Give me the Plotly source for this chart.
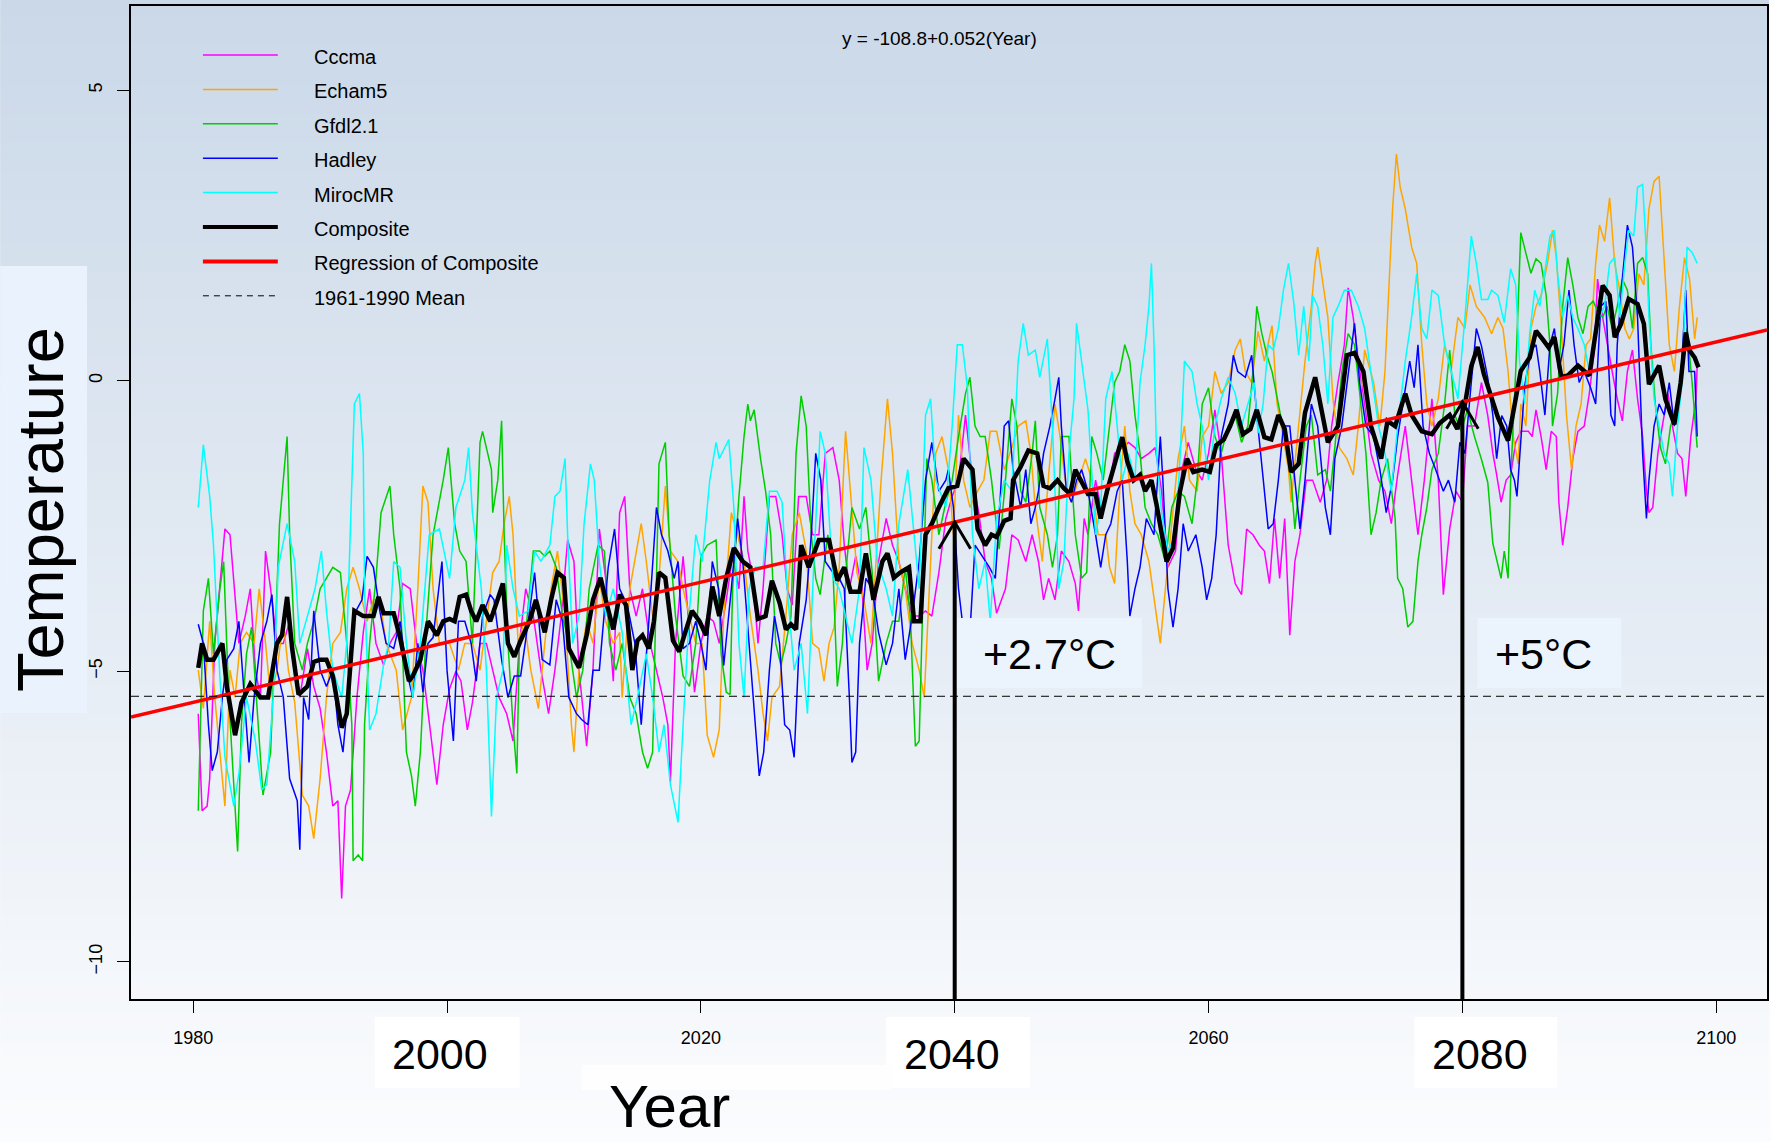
import plotly.graph_objects as go

W, H = 1771, 1142
ML, MR, MT, MB = 131, 2, 6, 143
PW, PH = W - ML - MR, H - MT - MB

x_range = [1975.1, 2104.0]
y_range = [-10.64, 6.45]

series_names = ["Cccma", "Echam5", "Gfdl2.1", "Hadley", "MirocMR"]
series_colors = ["#ff00ff", "#ffa500", "#00cd00", "#0000ff", "#00ffff"]

cccma = [(1980.4,-5.73),(1980.7,-7.40),(1981.1,-7.32),(1981.3,-6.85),(1981.7,-4.52),(1982.1,-3.58),(1982.5,-2.55),(1982.9,-2.65),(1983.2,-3.40),(1983.6,-4.52),(1984.1,-4.05),(1984.5,-3.58),(1984.9,-4.98),(1985.3,-5.45),(1985.7,-2.93),(1986.1,-3.58),(1986.6,-4.52),(1987.1,-4.52),(1987.6,-4.14),(1988.0,-4.98),(1988.4,-5.45),(1989.0,-4.61),(1989.5,-5.26),(1990.0,-5.64),(1990.5,-6.39),(1991.0,-7.32),(1991.4,-7.23),(1991.7,-8.91),(1992.0,-7.32),(1992.4,-7.04),(1992.9,-5.45),(1993.4,-4.33),(1993.9,-3.58),(1994.4,-4.52),(1995.0,-4.89),(1995.5,-4.52),(1996.0,-4.33),(1996.5,-3.49),(1997.1,-3.58),(1997.6,-4.52),(1998.1,-4.98),(1998.6,-5.92),(1999.2,-6.95),(1999.7,-5.92),
         (2000.2,-5.30),(2000.7,-5.00),(2001.1,-5.17),(2001.6,-6.01),(2002.0,-5.54),(2002.6,-4.52),(2003.1,-4.52),(2003.6,-4.98),(2004.1,-5.45),(2004.7,-5.73),(2005.2,-6.20),(2005.7,-4.52),(2006.2,-3.58),(2006.8,-4.05),(2007.4,-4.98),(2008.0,-5.73),(2008.5,-4.98),(2009.0,-4.05),(2009.5,-2.74),(2010.0,-3.11),(2010.4,-4.98),(2011.0,-6.29),(2011.5,-4.98),(2012.0,-2.55),(2012.5,-3.40),(2013.1,-5.17),(2013.6,-2.27),(2014.0,-1.99),(2014.4,-3.58),(2014.9,-4.05),(2015.4,-3.58),(2016.0,-4.52),(2016.5,-4.98),(2017.0,-5.45),(2017.4,-5.92),(2017.6,-6.90),(2018.0,-4.52),(2018.6,-3.02),(2019.0,-4.05),(2019.5,-5.36),(2020.0,-4.52),(2020.5,-4.05),(2021.0,-4.14),
         (2021.45,-4.52),(2022.0,-3.77),(2022.5,-3.02),(2023.0,-3.58),(2023.4,-1.99),(2023.7,-2.93),(2024.1,-3.40),(2024.5,-4.52),(2024.9,-3.58),(2025.4,-1.99),(2025.9,-1.99),(2026.4,-2.65),(2026.8,-3.58),(2027.2,-3.86),(2027.7,-1.99),(2028.3,-1.99),(2028.8,-2.65),(2029.3,-2.65),(2029.8,-1.25),(2030.4,-1.15),(2030.9,-1.71),(2031.3,-2.83),(2031.7,-3.58),(2032.2,-3.02),(2032.7,-3.58),(2033.1,-4.98),(2033.5,-4.52),(2034.0,-3.11),(2034.6,-2.37),(2035.1,-2.83),(2035.6,-3.11),(2036.1,-3.58),(2036.65,-4.05),(2037.2,-4.05),(2037.7,-3.96),(2038.2,-4.05),(2038.75,-3.30),(2039.3,-2.37),(2039.8,-1.99),(2040.3,-1.71),(2040.85,-0.59),(2041.4,-1.71),(2041.9,-2.27),(2042.4,-3.11),(2042.9,-3.40),
         (2043.3,-4.00),(2044.0,-3.58),(2044.5,-2.65),(2045.0,-2.74),(2045.6,-3.11),(2046.1,-2.65),(2046.6,-3.11),(2047.0,-3.77),(2047.4,-3.40),(2047.9,-3.77),(2048.4,-2.93),(2049.0,-3.11),(2049.5,-3.49),(2049.75,-3.96),(2050.2,-2.37),(2050.5,-2.65),(2051.1,-1.71),(2051.6,-2.27),(2052.1,-1.90),(2052.6,-1.25),(2053.2,-1.15),(2053.7,-1.06),(2054.2,-1.15),(2054.7,-1.34),(2055.3,-1.25),(2055.8,-1.15),(2056.3,-1.90),(2056.8,-3.21),(2057.4,-2.93),(2057.9,-1.53),(2058.4,-1.06),(2059.0,-1.53),(2059.5,-1.71),(2060.0,-1.25),(2060.5,-0.50),(2061.0,-1.25),(2061.55,-2.83),(2062.1,-3.49),(2062.6,-3.68),(2063.0,-2.55),(2063.5,-2.65),(2064.0,-2.83),(2064.4,-2.93),(2064.8,-3.49),(2065.2,-2.37),(2065.6,-3.40),(2066.0,-2.37),(2066.4,-4.38),(2066.8,-3.11),(2067.2,-2.65),(2067.7,-1.71),(2068.2,-1.71),(2068.8,-2.09),(2069.3,-1.71),(2069.7,-0.78),(2070.2,-0.03),(2070.7,0.62),(2071.0,1.60),(2071.4,1.09),(2071.8,0.34),(2072.3,-0.40),(2072.8,-1.25),(2073.4,-1.71),(2073.9,-1.90),(2074.4,-2.46),(2074.9,-1.62),(2075.5,-0.78),(2076.0,-1.71),(2076.5,-2.65),(2077.0,-1.71),(2077.6,-0.31),(2078.1,-1.71),(2078.5,-3.68),(2079.0,-2.55),(2079.5,-1.90),(2080.0,-2.09),(2080.4,-0.78),(2080.95,-0.78),
         (2081.5,-0.03),(2082.0,-0.60),(2082.4,-1.25),(2082.7,-1.62),(2083.05,-2.09),(2083.45,-1.71),(2083.8,-1.62),(2084.2,-1.06),(2084.6,-0.87),(2085.2,-0.87),(2085.5,-0.96),(2085.8,-0.50),(2086.2,-0.96),(2086.6,-1.53),(2087.0,-0.87),(2087.4,-0.96),(2087.6,-2.09),(2087.9,-2.83),(2088.3,-2.18),(2088.7,-1.34),(2089.1,-0.87),(2089.6,-0.78),(2090.0,-0.22),(2090.4,0.53),(2090.65,1.75),(2091.05,1.09),(2091.4,0.62),(2091.8,0.16),(2092.2,-0.31),(2092.6,-0.69),(2093.0,0.16),(2093.4,0.53),(2093.8,-0.31),(2094.2,-0.96),(2094.5,-1.90),(2094.7,-2.27),(2095.0,-2.18),(2095.4,-1.25),(2095.75,-0.78),(2096.2,-0.22),(2096.55,-0.78),(2096.95,-1.25),(2097.3,-1.34),(2097.6,-1.99),(2098.0,-0.96),(2098.4,-0.31),(2098.5,0.25)]

echam5 = [(1980.4,-4.98),(1980.8,-5.64),(1981.3,-4.14),(1981.7,-5.45),(1982.1,-6.39),(1982.5,-7.32),(1982.9,-4.98),(1983.3,-5.45),(1983.7,-4.52),(1984.2,-4.33),(1984.8,-4.52),(1985.2,-3.58),(1985.7,-4.52),(1986.1,-5.45),(1986.6,-4.98),(1987.1,-4.14),(1987.5,-4.98),(1988.0,-5.54),(1988.6,-7.13),(1989.1,-7.32),(1989.5,-7.88),(1990.0,-6.85),(1990.5,-5.45),(1991.0,-4.52),(1991.6,-4.33),(1992.1,-3.58),(1992.6,-3.21),(1993.1,-3.58),(1993.7,-4.14),(1994.2,-3.77),(1994.7,-3.77),(1995.2,-4.52),(1996.0,-4.98),(1996.5,-6.01),(1997.2,-5.45),(1997.7,-3.58),(1998.1,-1.81),(1998.5,-2.09),(1998.9,-3.58),(1999.4,-4.52),
          (2000.2,-4.52),(2000.9,-4.98),(2001.4,-4.52),(2002.0,-4.52),(2002.6,-4.98),(2003.1,-4.14),(2003.6,-3.30),(2004.1,-3.11),(2004.5,-2.46),(2004.9,-1.99),(2005.2,-2.65),(2005.6,-4.52),(2006.1,-4.14),(2006.6,-4.98),(2007.2,-5.64),(2007.7,-4.52),(2008.2,-3.58),(2008.7,-2.93),(2009.3,-4.05),(2009.8,-5.92),(2010.0,-6.39),(2010.4,-4.98),(2011.0,-4.14),(2011.5,-4.52),(2012.0,-3.40),(2012.5,-4.14),(2013.1,-4.52),(2013.6,-4.33),(2013.8,-5.45),(2014.4,-3.58),(2014.9,-2.93),(2015.3,-2.46),(2015.7,-3.11),(2016.2,-4.05),(2016.7,-3.40),(2017.2,-1.81),(2017.6,-2.93),(2018.2,-3.11),(2018.6,-3.58),(2019.1,-4.05),(2019.6,-4.52),(2020.1,-4.52),(2020.5,-6.10),(2021.0,-6.48),
          (2021.45,-6.00),(2021.8,-4.05),(2022.4,-2.27),(2022.9,-2.65),(2023.4,-3.11),(2023.9,-4.05),(2024.5,-4.98),(2024.9,-5.73),(2025.25,-6.20),(2025.6,-5.45),(2026.2,-5.26),(2026.7,-4.05),(2027.2,-2.65),(2027.75,-2.27),(2028.3,-2.93),(2028.8,-4.52),(2029.3,-4.61),(2029.7,-5.17),(2030.1,-4.52),(2030.5,-4.24),(2030.9,-3.21),(2031.4,-0.87),(2031.8,-1.90),(2032.3,-3.30),(2032.85,-3.77),(2033.4,-4.52),(2033.8,-3.11),(2034.2,-1.71),(2034.7,-0.31),(2035.1,-1.25),(2035.6,-3.11),(2036.1,-3.58),(2036.65,-4.52),(2037.2,-4.98),(2037.6,-5.45),(2038.0,-3.58),(2038.5,-1.25),(2039.0,-0.96),(2039.5,-1.53),(2039.9,-2.65),(2040.3,-0.59),(2040.7,-1.71),(2041.2,-2.18),(2041.8,-1.90),(2042.3,-1.71),(2042.8,-0.87),(2043.3,-0.87),
          (2043.9,-1.53),(2044.5,-1.15),(2045.0,-0.78),(2045.6,-0.69),(2046.0,-1.25),(2046.35,-2.18),(2046.9,-3.11),(2047.4,-1.62),(2047.9,-0.40),(2048.3,-0.96),(2048.7,-1.71),(2049.2,-2.09),(2049.75,-1.71),(2050.3,-1.34),(2050.8,-1.71),(2051.3,-2.65),(2051.9,-2.65),(2052.2,-3.21),(2052.6,-3.49),(2053.0,-1.90),(2053.4,-0.78),(2053.8,-1.90),(2054.2,-2.46),(2054.7,-2.65),(2055.3,-3.11),(2055.8,-3.86),(2056.2,-4.52),(2056.6,-3.58),(2057.1,-2.46),(2057.6,-1.34),(2058.1,-0.78),(2058.5,-1.71),(2059.1,-1.90),(2059.5,-0.96),(2060.0,-0.78),(2060.5,0.16),(2061.0,-0.22),(2061.55,-0.03),(2062.1,0.53),(2062.5,0.72),(2062.9,0.16),(2063.4,-0.03),(2063.9,0.85),(2064.4,0.34),(2065.0,0.95),
          (2065.4,-0.40),(2065.8,-0.87),(2066.3,-1.53),(2066.5,-2.09),(2067.1,-0.78),(2067.6,0.34),(2068.1,1.28),(2068.4,2.02),(2068.6,2.30),(2069.0,1.65),(2069.4,1.09),(2069.8,-0.31),(2070.3,-1.15),(2070.9,-1.34),(2071.4,-1.62),(2071.8,-0.78),(2072.3,0.53),(2073.0,-0.03),(2073.5,-0.78),(2073.9,0.16),(2074.3,2.21),(2074.5,2.96),(2074.8,3.90),(2075.1,3.33),(2075.5,2.96),(2076.0,2.30),(2076.4,2.02),(2076.8,0.62),(2077.2,-0.40),(2077.6,-0.78),(2078.1,-0.31),(2078.6,0.62),(2079.1,0.16),(2079.65,1.09),(2080.2,0.90),(2080.6,1.65),(2081.1,1.28),
          (2081.75,1.09),(2082.3,0.81),(2082.8,1.09),(2083.2,0.90),(2083.6,0.16),(2084.0,-0.96),(2084.4,-1.43),(2084.6,-0.40),(2085.0,-0.78),(2085.4,0.90),(2085.8,1.28),(2086.2,1.47),(2086.7,2.02),(2087.1,2.59),(2087.4,2.12),(2087.8,0.90),(2088.2,-0.59),(2088.6,-1.53),(2088.95,-0.78),(2089.35,-0.40),(2089.75,0.62),(2090.1,0.72),(2090.5,2.02),(2090.8,2.68),(2091.2,2.40),(2091.6,3.15),(2092.0,2.02),(2092.4,1.56),(2092.8,0.90),(2093.15,0.72),(2093.5,0.90),(2093.9,1.84),(2094.3,1.65),(2094.7,2.96),(2095.1,3.43),(2095.5,3.52),(2095.9,2.02),(2096.3,0.62),(2096.7,0.16),(2097.1,1.28),(2097.5,2.12),(2097.9,1.75),(2098.3,0.72),(2098.5,1.09)]

gfdl21 = [(1980.4,-7.40),(1980.8,-3.96),(1981.2,-3.40),(1981.6,-4.70),(1982.1,-3.58),(1982.4,-3.11),(1982.8,-5.45),(1983.2,-7.04),(1983.5,-8.10),(1983.8,-5.92),(1984.2,-4.70),(1984.6,-4.24),(1985.0,-5.45),(1985.5,-7.13),(1986.1,-6.39),(1986.6,-3.40),(1986.8,-2.46),(1987.4,-0.96),(1987.6,-2.65),(1988.0,-4.52),(1988.6,-4.98),(1989.0,-4.52),(1989.5,-4.14),(1990.0,-3.58),(1990.5,-3.40),(1991.0,-3.21),(1991.6,-3.30),(1992.1,-4.52),(1992.5,-5.92),(1992.6,-8.26),(1993.0,-8.16),(1993.35,-8.26),(1993.5,-5.92),(1993.9,-4.52),(1994.4,-3.40),(1994.8,-2.27),(1995.5,-1.81),(1995.8,-2.65),(1996.3,-3.58),(1996.8,-6.39),(1997.2,-6.80),(1997.5,-7.32),(1997.9,-6.39),(1998.4,-4.14),(1998.9,-2.65),(1999.7,-1.71),(2000.1,-1.15),
          (2000.6,-2.46),(2001.0,-2.93),(2001.5,-3.11),(2002.0,-4.52),(2002.6,-1.06),(2002.8,-0.87),(2003.5,-1.53),(2003.6,-2.27),(2004.0,-1.71),(2004.3,-0.69),(2004.5,-2.65),(2004.8,-4.52),(2005.2,-5.92),(2005.5,-6.76),(2005.7,-4.52),(2006.2,-4.33),(2006.8,-2.93),(2007.3,-2.93),(2007.7,-3.02),(2008.1,-2.93),(2008.6,-3.21),(2009.1,-4.05),(2009.6,-4.52),(2010.2,-5.45),(2010.7,-4.98),(2011.2,-3.58),(2011.9,-2.83),(2012.4,-2.93),(2012.8,-4.52),(2013.3,-4.98),(2013.8,-4.52),(2014.4,-5.45),(2014.9,-5.73),(2015.4,-6.39),(2015.8,-6.67),(2016.2,-6.39),(2016.5,-3.58),(2016.7,-1.43),(2017.2,-1.06),(2017.5,-2.65),(2018.0,-4.05),(2018.6,-5.08),(2019.1,-5.26),(2019.6,-4.52),(2020.0,-3.02),(2020.5,-2.83),(2021.2,-2.74),
          (2021.6,-4.70),(2022.0,-5.36),(2022.3,-5.40),(2022.5,-3.58),(2023.0,-1.99),(2023.4,-0.96),(2023.7,-0.40),(2023.9,-0.69),(2024.2,-0.50),(2024.7,-1.34),(2025.1,-1.90),(2025.5,-2.65),(2025.9,-4.52),(2026.3,-4.89),(2026.7,-4.52),(2027.1,-4.05),(2027.5,-1.25),(2027.9,-0.26),(2028.3,-0.78),(2028.7,-2.65),(2029.05,-3.40),(2029.4,-3.68),(2030.0,-2.65),(2030.4,-3.21),(2030.75,-5.26),(2031.15,-4.52),(2031.5,-3.11),(2031.9,-2.18),(2032.5,-2.55),(2033.0,-2.18),(2033.5,-3.30),(2034.0,-5.17),(2034.6,-4.52),(2035.1,-4.14),(2035.6,-4.14),(2036.1,-3.21),(2036.5,-4.05),(2036.9,-6.29),(2037.2,-6.20),(2037.4,-4.52),(2037.8,-1.34),(2038.2,-1.71),(2038.75,-2.65),(2039.3,-2.09),(2039.8,-1.71),(2040.3,-0.96),(2040.85,-0.22),(2041.2,0.06),(2041.6,-0.78),(2042.0,-0.96),(2042.4,-0.96),(2042.9,-1.71),
          (2043.5,-2.90),(2044.0,-1.71),(2044.5,-0.31),(2044.9,-0.78),(2045.2,-1.90),(2045.6,-2.09),(2046.1,-1.25),(2046.35,-0.69),(2046.7,-2.18),(2047.3,-2.65),(2047.7,-3.21),(2048.1,-2.65),(2048.4,-0.96),(2049.0,-0.96),(2049.5,-2.65),(2050.0,-3.40),(2050.4,-3.30),(2050.8,-0.96),(2051.2,-1.25),(2051.7,-1.71),(2052.2,-0.78),(2052.6,-0.03),(2053.0,0.16),(2053.4,0.62),(2053.8,0.34),(2054.2,-0.59),(2054.6,-1.25),(2055.0,-2.18),(2055.5,-2.46),(2056.0,-2.65),(2056.6,-3.11),(2057.1,-2.18),(2057.6,-1.90),(2058.1,-1.99),(2058.7,-2.46),(2059.1,-1.71),(2059.5,-0.40),(2060.0,-0.12),(2060.5,-0.96),(2061.0,-1.25),(2061.55,-0.78),(2062.1,-0.59),(2062.6,-1.06),(2063.1,-0.78),(2063.5,0.16),(2063.8,1.28),(2064.2,0.81),(2064.6,0.44),(2065.0,0.16),
          (2065.5,-0.40),(2066.0,-0.96),(2066.5,-1.71),(2066.8,-2.55),(2067.2,-1.71),(2067.7,-0.78),(2068.1,-0.59),(2068.6,-1.62),(2069.2,-1.53),(2069.6,-1.90),(2069.95,-1.15),(2070.5,0.16),(2071.0,0.81),(2071.5,0.62),(2072.0,-0.40),(2072.4,-1.25),(2072.8,-2.65),(2073.2,-2.27),(2073.6,-1.71),(2074.1,-1.34),(2074.7,-2.37),(2074.9,-3.40),(2075.3,-3.58),(2075.7,-4.24),(2076.1,-4.14),(2076.5,-3.11),(2076.8,-2.65),(2077.2,-2.18),(2077.6,-1.53),(2078.1,-1.25),(2078.6,-0.40),(2079.0,0.53),(2079.4,-0.59),(2079.9,-0.87),(2080.4,-0.50),(2080.95,-0.96),
          (2081.5,-1.35),(2082.0,-1.75),(2082.4,-2.80),(2082.8,-3.20),(2083.05,-3.40),(2083.3,-2.93),(2083.6,-3.40),(2083.8,-1.71),(2084.2,0.16),(2084.6,2.55),(2085.0,2.20),(2085.4,1.85),(2085.8,2.10),(2086.2,2.02),(2086.6,1.47),(2086.9,0.62),(2087.1,-0.78),(2087.5,-0.22),(2087.9,1.28),(2088.3,2.12),(2088.7,1.65),(2089.1,1.09),(2089.5,0.81),(2089.9,1.28),(2090.3,1.37),(2090.7,1.18),(2091.05,1.09),(2091.4,1.28),(2091.8,0.90),(2092.2,1.28),(2092.6,1.75),(2093.0,1.56),(2093.4,0.90),(2093.8,2.02),(2094.2,2.12),(2094.6,1.84),(2094.85,0.62),(2095.2,-0.40),(2095.6,-1.15),(2096.0,-1.43),(2096.4,-0.78),(2096.95,-0.40),(2097.3,0.34),(2097.7,0.90),(2098.1,-0.03),(2098.5,-1.15)]

hadley = [(1980.4,-4.19),(1980.8,-4.52),(1981.2,-5.92),(1981.5,-6.71),(1981.9,-6.39),(1982.3,-5.45),(1982.65,-4.80),(1983.2,-4.61),(1983.6,-4.14),(1984.0,-5.45),(1984.4,-6.57),(1984.8,-5.45),(1985.3,-4.52),(1985.8,-4.14),(1986.2,-3.68),(1986.6,-4.98),(1987.1,-5.45),(1987.6,-6.85),(1988.2,-7.23),(1988.4,-8.07),(1988.7,-5.45),(1989.1,-5.83),(1989.5,-3.96),(1990.0,-4.98),(1990.5,-5.26),(1991.0,-4.98),(1991.4,-5.92),(1991.8,-6.39),(1992.2,-5.45),(1992.6,-4.05),(1993.3,-3.77),(1993.7,-3.02),(1994.2,-3.21),(1994.7,-3.96),(1995.2,-4.52),(1995.8,-4.61),(1996.3,-4.14),(1996.8,-4.98),(1997.3,-5.45),(1997.7,-4.52),(1998.1,-5.36),(1998.5,-4.52),(1998.9,-4.42),(1999.6,-3.11),(2000.0,-4.98),(2000.5,-6.20),(2000.9,-4.14),
          (2001.4,-4.14),(2001.9,-4.52),(2002.3,-5.17),(2002.8,-4.05),(2003.4,-3.68),(2003.7,-3.77),(2004.3,-4.80),(2004.8,-5.45),(2005.3,-5.08),(2005.8,-5.08),(2006.4,-4.14),(2006.9,-3.30),(2007.5,-4.80),(2008.1,-4.89),(2008.6,-3.77),(2009.1,-4.14),(2009.6,-5.45),(2010.2,-5.73),(2010.6,-5.83),(2011.1,-5.92),(2011.5,-4.98),(2012.0,-4.98),(2012.7,-3.21),(2013.2,-2.55),(2013.6,-3.58),(2014.2,-3.86),(2014.8,-4.52),(2015.3,-5.92),(2015.9,-4.14),(2016.5,-2.18),(2016.9,-2.65),(2017.4,-2.93),(2017.9,-3.40),(2018.2,-3.11),(2018.6,-4.61),(2019.1,-4.52),(2019.6,-4.14),(2020.0,-4.52),(2020.4,-4.98),(2020.9,-3.11),(2021.4,-3.58),
          (2021.8,-4.90),(2022.4,-3.58),(2022.9,-2.37),(2023.3,-3.11),(2023.8,-4.52),(2024.3,-5.92),(2024.6,-6.80),(2024.95,-6.39),(2025.4,-4.98),(2025.8,-4.05),(2026.2,-4.52),(2026.6,-5.92),(2027.0,-6.01),(2027.35,-6.48),(2027.75,-4.52),(2028.3,-3.77),(2028.7,-2.65),(2029.05,-1.25),(2029.45,-1.71),(2029.8,-3.11),(2030.4,-3.30),(2030.9,-3.40),(2031.3,-3.58),(2031.7,-5.45),(2031.9,-6.57),(2032.2,-6.39),(2032.5,-4.52),(2033.0,-3.40),(2033.5,-3.58),(2034.0,-4.33),(2034.6,-4.89),(2035.1,-4.52),(2035.6,-3.58),(2036.1,-4.80),(2036.65,-4.05),(2037.2,-3.11),(2037.7,-1.71),(2038.2,-1.06),(2038.75,-1.90),(2039.3,-1.71),(2039.5,-1.53),(2039.9,-2.18),(2040.3,-3.58),(2040.7,-4.33),(2041.2,-4.33),(2041.6,-2.83),(2042.2,-3.02),(2042.7,-3.20),
          (2043.2,-3.40),(2043.5,-2.37),(2043.9,-0.78),(2044.25,-0.69),(2044.6,-1.53),(2045.2,-2.18),(2045.6,-1.53),(2046.0,-2.46),(2046.35,-2.18),(2046.6,-1.90),(2047.0,-1.25),(2047.5,-0.78),(2047.9,-0.31),(2048.2,0.06),(2048.4,-0.78),(2048.8,-1.90),(2049.2,-2.09),(2049.6,-1.71),(2050.0,-1.53),(2050.5,-1.90),(2051.1,-2.65),(2051.5,-3.21),(2051.9,-2.65),(2052.3,-2.46),(2052.8,-1.90),(2053.2,-1.71),(2053.6,-3.11),(2053.8,-4.05),(2054.2,-3.58),(2054.6,-3.21),(2055.1,-2.37),(2055.7,-2.65),(2056.2,-0.96),(2056.4,-1.71),(2056.8,-3.58),(2057.2,-4.24),(2057.6,-3.58),(2058.0,-2.46),(2058.4,-2.93),(2059.0,-2.65),(2059.5,-3.21),(2059.85,-3.77),(2060.25,-3.40),(2060.6,-2.65),(2061.0,-0.96),(2061.55,-0.40),(2061.95,0.44),(2062.3,0.16),(2062.9,0.06),(2063.4,0.44),(2063.8,-0.59),
          (2064.3,-1.71),(2064.7,-2.55),(2065.1,-2.46),(2065.5,-1.71),(2065.9,-0.78),(2066.4,-0.78),(2066.8,-1.71),(2067.2,-2.55),(2067.6,-1.71),(2068.1,-0.40),(2068.6,-0.78),(2069.2,-2.18),(2069.6,-2.65),(2069.95,-1.34),(2070.5,-0.78),(2071.0,0.16),(2071.5,0.99),(2071.9,-0.03),(2072.4,-0.78),(2073.0,-0.96),(2073.5,-1.53),(2074.0,-2.27),(2074.5,-1.71),(2074.9,-0.96),(2075.5,-0.12),(2075.85,0.34),(2076.2,-0.12),(2076.5,0.62),(2076.9,-0.78),(2077.4,-1.25),(2077.9,-1.53),(2078.5,-1.90),(2078.9,-1.71),(2079.4,-2.09),(2079.8,-1.06),(2080.2,-1.25),(2080.7,-0.03),(2081.1,0.90),
          (2081.5,0.60),(2082.0,0.05),(2082.4,-0.59),(2082.7,-1.34),(2083.1,-0.60),(2083.5,-0.78),(2083.8,-1.53),(2084.1,-1.71),(2084.3,-1.99),(2084.6,-1.10),(2084.9,-0.10),(2085.4,0.53),(2085.8,0.62),(2086.1,0.16),(2086.5,-0.59),(2086.9,0.62),(2087.25,0.90),(2087.6,0.16),(2088.0,0.62),(2088.4,1.56),(2088.8,0.62),(2089.2,-0.03),(2089.6,0.16),(2090.1,-0.12),(2090.5,-0.40),(2090.9,1.28),(2091.3,1.37),(2091.7,-0.59),(2092.0,-0.78),(2092.2,0.62),(2092.6,1.75),(2093.0,2.68),(2093.4,2.30),(2093.8,1.09),(2094.2,-1.25),(2094.5,-2.37),(2094.7,-1.71),(2095.1,-0.78),(2095.5,-0.40),(2095.9,-0.59),(2096.3,-0.03),(2096.7,-0.78),(2097.2,-0.03),(2097.6,1.56),(2097.85,0.16),(2098.3,0.16),(2098.5,-0.96)]

mirocmr = [(1980.4,-2.18),(1980.8,-1.10),(1981.3,-1.99),(1981.6,-2.83),(1982.1,-5.08),(1982.5,-6.48),(1983.2,-7.32),(1983.6,-6.76),(1984.2,-5.45),(1984.9,-6.20),(1985.4,-7.04),(1985.8,-6.95),(1986.3,-5.45),(1986.7,-3.21),(1987.4,-2.46),(1988.0,-3.11),(1988.4,-4.52),(1989.1,-3.96),(1989.6,-3.58),(1990.1,-2.93),(1990.5,-3.96),(1991.0,-4.98),(1991.7,-5.45),(1992.1,-4.52),(1992.5,-1.71),(1992.7,-0.40),(1993.1,-0.22),(1993.4,-1.25),(1993.5,-3.58),(1993.9,-6.01),(1994.4,-5.73),(1995.0,-4.89),(1995.4,-4.52),(1995.8,-3.11),(1996.3,-3.21),(1996.8,-4.52),(1997.3,-5.45),(1997.9,-4.52),(1998.6,-2.65),(1999.4,-2.55),
           (2000.2,-3.40),(2000.7,-2.18),(2001.4,-1.71),(2001.7,-1.15),(2002.0,-2.27),(2002.7,-3.58),(2003.1,-4.98),(2003.5,-7.50),(2003.9,-5.45),(2004.4,-4.98),(2004.7,-2.83),(2005.2,-3.58),(2005.7,-4.05),(2006.4,-3.96),(2006.9,-2.93),(2007.4,-3.11),(2008.1,-2.83),(2008.5,-1.99),(2008.9,-1.90),(2009.3,-1.34),(2009.5,-2.65),(2009.9,-4.52),(2010.4,-4.05),(2010.8,-2.46),(2011.3,-1.43),(2011.6,-1.71),(2012.0,-3.11),(2012.5,-4.05),(2013.1,-3.58),(2013.8,-4.33),(2014.5,-5.92),(2015.0,-5.45),(2015.7,-4.70),(2016.2,-5.45),(2016.7,-6.39),(2017.1,-5.92),(2017.6,-6.95),(2018.2,-7.60),(2018.6,-5.92),(2019.1,-3.96),(2019.6,-2.65),(2020.1,-3.11),(2020.7,-1.71),(2021.2,-1.06),
           (2021.45,-1.34),(2022.2,-1.01),(2022.6,-2.18),(2023.0,-4.52),(2023.4,-5.45),(2023.8,-3.58),(2024.3,-3.21),(2024.9,-3.21),(2025.4,-1.90),(2026.0,-1.90),(2026.4,-2.09),(2026.8,-3.58),(2027.35,-4.98),(2027.9,-4.52),(2028.4,-5.73),(2028.9,-3.11),(2029.4,-0.87),(2029.8,-1.25),(2030.4,-3.40),(2030.9,-3.58),(2031.4,-4.05),(2031.9,-4.52),(2032.5,-3.58),(2032.85,-1.15),(2033.4,-1.71),(2033.9,-3.11),(2034.6,-3.58),(2035.1,-4.05),(2035.6,-2.46),(2036.3,-1.53),(2036.8,-2.65),(2037.2,-3.58),(2037.7,-0.59),(2038.1,-0.31),(2038.5,-1.71),(2039.3,-2.18),(2039.8,-0.78),(2040.2,0.62),(2040.6,0.62),(2041.0,-0.12),(2041.4,-2.65),(2041.9,-3.58),(2042.4,-3.11),(2042.8,-4.14),
           (2043.3,-2.40),(2043.9,-1.71),(2044.5,-1.90),(2045.0,0.34),(2045.4,0.99),(2045.8,0.44),(2046.35,0.53),(2046.7,0.06),(2047.3,0.72),(2047.7,-0.78),(2048.2,-3.58),(2048.6,-3.11),(2049.0,-1.25),(2049.4,-0.31),(2049.6,0.99),(2050.0,0.34),(2050.5,-0.50),(2051.1,-2.65),(2051.5,-2.18),(2051.9,-0.31),(2052.4,0.16),(2052.8,-0.78),(2053.2,-1.71),(2053.7,-1.25),(2054.2,-1.71),(2054.6,-0.03),(2055.0,0.62),(2055.3,1.28),(2055.5,2.02),(2055.7,0.62),(2055.9,-1.25),(2056.3,-2.27),(2056.8,-2.93),(2057.4,-2.65),(2057.75,-1.34),(2058.1,0.34),(2058.7,0.16),(2059.1,-0.40),(2059.5,-0.78),(2060.0,-1.71),(2060.5,-0.78),(2061.0,-0.31),(2061.55,0.06),(2062.1,-0.22),(2062.6,-0.78),(2063.1,-0.40),(2063.6,-0.03),
           (2063.9,-0.90),(2064.3,-0.40),(2064.7,0.62),(2065.1,0.53),(2065.5,0.90),(2065.9,1.56),(2066.3,2.02),(2066.7,1.37),(2067.1,0.44),(2067.5,1.28),(2067.9,0.34),(2068.2,1.47),(2068.6,1.28),(2069.0,0.62),(2069.4,-0.40),(2069.8,1.09),(2070.2,1.28),(2070.7,1.56),(2071.25,1.56),(2071.8,1.28),(2072.3,0.90),(2072.8,0.16),(2073.4,-0.78),(2073.9,-1.25),(2074.4,-1.90),(2074.9,-0.78),(2075.5,0.34),(2076.0,1.09),(2076.4,1.84),(2076.8,0.90),(2077.2,0.72),(2077.6,1.56),(2078.1,1.47),(2078.6,0.62),(2079.1,0.16),(2079.65,-0.31),(2080.2,1.09),(2080.7,2.49),(2081.1,2.02),
           (2081.5,1.40),(2082.0,1.40),(2082.3,1.56),(2082.8,1.47),(2083.3,1.00),(2083.8,1.93),(2084.2,1.65),(2084.5,0.34),(2084.9,-0.40),(2085.3,0.81),(2085.7,1.56),(2086.1,1.28),(2086.5,1.93),(2086.9,2.49),(2087.25,2.59),(2087.5,1.84),(2087.9,1.09),(2088.3,1.47),(2088.7,1.09),(2089.1,0.90),(2089.6,0.62),(2090.0,0.16),(2090.4,0.62),(2090.8,1.09),(2091.2,1.28),(2091.6,2.02),(2092.0,2.12),(2092.4,1.09),(2092.8,2.02),(2093.1,2.59),(2093.5,2.49),(2093.8,3.33),(2094.2,3.38),(2094.5,2.21),(2094.7,1.09),(2095.1,-0.31),(2095.5,-0.78),(2095.9,-1.25),(2096.3,-1.43),(2096.55,-1.99),(2096.95,-0.78),(2097.3,-0.03),(2097.7,2.30),(2098.1,2.21),(2098.5,2.02)]

composite = [(1980.4,-4.94),(1980.7,-4.52),(1981.1,-4.80),(1981.6,-4.80),(1982.3,-4.52),(1982.65,-5.26),(1983.3,-6.10),(1983.8,-5.54),(1984.5,-5.22),(1985.3,-5.45),(1985.9,-5.45),(1986.6,-4.52),(1987.0,-4.38),(1987.4,-3.72),(1987.8,-4.61),(1988.3,-5.40),(1989.0,-5.26),(1989.5,-4.84),(1990.0,-4.80),(1990.5,-4.80),(1991.0,-5.08),(1991.7,-5.97),(1992.1,-5.73),(1992.5,-4.42),(1992.7,-3.96),(1993.4,-4.05),(1994.2,-4.05),(1994.6,-3.72),(1995.0,-4.00),(1995.8,-4.00),(1996.3,-4.42),(1997.0,-5.17),(1997.3,-5.08),(1997.9,-4.80),(1998.5,-4.14),(1999.2,-4.38),(1999.7,-4.14),
             (2000.2,-4.10),(2000.6,-4.14),(2001.0,-3.72),(2001.5,-3.68),(2001.9,-3.96),(2002.3,-4.14),(2002.8,-3.86),(2003.4,-4.14),(2003.9,-3.82),(2004.4,-3.49),(2004.8,-4.52),(2005.3,-4.75),(2005.8,-4.47),(2006.5,-4.14),(2007.0,-3.77),(2007.7,-4.33),(2008.2,-3.77),(2008.7,-3.30),(2009.2,-3.39),(2009.6,-4.61),(2010.4,-4.94),(2011.0,-4.38),(2011.5,-3.77),(2012.1,-3.39),(2012.5,-3.77),(2013.1,-4.28),(2013.6,-3.68),(2014.1,-3.86),(2014.6,-4.98),(2015.0,-4.47),(2015.4,-4.38),(2015.9,-4.61),(2016.3,-4.14),(2016.7,-3.30),(2017.2,-3.39),(2017.8,-4.47),(2018.3,-4.66),(2018.8,-4.33),(2019.3,-3.96),(2019.9,-4.14),(2020.4,-4.38),(2020.9,-3.54),
             (2021.45,-4.05),(2022.0,-3.39),(2022.6,-2.88),(2023.3,-3.11),(2023.9,-3.21),(2024.5,-4.10),(2025.1,-4.05),(2025.6,-3.44),(2026.2,-3.82),(2026.7,-4.28),(2027.1,-4.19),(2027.5,-4.28),(2027.9,-2.83),(2028.5,-3.21),(2029.3,-2.74),(2030.1,-2.74),(2030.75,-3.44),(2031.3,-3.21),(2031.8,-3.63),(2032.5,-3.63),(2033.0,-2.97),(2033.6,-3.77),(2034.3,-3.11),(2034.7,-2.97),(2035.2,-3.39),(2035.7,-3.30),(2036.4,-3.21),(2036.8,-4.14),(2037.3,-4.14),(2037.7,-2.65),(2038.2,-2.46),(2038.75,-2.18),(2039.5,-1.85),(2040.2,-1.81),(2040.7,-1.34),(2041.4,-1.53),(2041.8,-2.55),(2042.4,-2.83),
             (2042.9,-2.65),(2043.3,-2.69),(2043.9,-2.41),(2044.4,-2.37),(2044.6,-1.71),(2045.2,-1.48),(2045.8,-1.20),(2046.5,-1.25),(2047.0,-1.81),(2047.5,-1.85),(2048.1,-1.71),(2048.6,-1.85),(2049.1,-1.95),(2049.5,-1.53),(2050.0,-1.76),(2050.5,-1.95),(2051.1,-1.95),(2051.5,-2.37),(2052.0,-1.90),(2052.5,-1.53),(2053.2,-0.97),(2053.6,-1.39),(2054.1,-1.71),(2054.6,-1.62),(2055.0,-1.90),(2055.5,-1.71),(2055.9,-2.13),(2056.7,-3.11),(2057.2,-2.88),(2057.75,-1.90),(2058.3,-1.34),(2058.8,-1.57),(2059.5,-1.53),(2060.1,-1.57),(2060.6,-1.11),(2061.2,-1.01),(2061.7,-0.78),(2062.2,-0.50),(2062.7,-0.92),(2063.3,-0.83),(2063.8,-0.50),
             (2064.4,-0.97),(2064.95,-1.01),(2065.5,-0.59),(2066.0,-0.83),(2066.5,-1.57),(2067.1,-1.43),(2067.6,-0.55),(2068.4,0.06),(2068.9,-0.50),(2069.4,-1.06),(2070.2,-0.78),(2070.9,0.44),(2071.5,0.48),(2072.2,0.16),(2072.8,-0.78),(2073.6,-1.34),(2074.1,-0.69),(2074.7,-0.78),(2075.5,-0.22),(2076.0,-0.59),(2076.8,-0.87),(2077.6,-0.92),(2078.2,-0.73),(2079.0,-0.59),(2079.6,-0.83),(2080.2,-0.41),(2080.7,0.25),(2081.2,0.58),(2081.7,0.11),(2082.3,-0.31),
             (2082.8,-0.63),(2083.6,-1.03),(2084.1,-0.46),(2084.6,0.17),(2085.3,0.40),(2085.8,0.86),(2086.3,0.72),(2086.8,0.57),(2087.25,0.75),(2087.8,0.06),(2088.3,0.09),(2089.1,0.26),(2090.0,0.09),(2090.65,1.09),(2091.05,1.64),(2091.6,1.47),(2092.0,0.75),(2092.5,0.98),(2093.1,1.41),(2093.8,1.32),(2094.3,0.98),(2094.7,-0.06),(2095.5,0.26),(2096.0,-0.32),(2096.7,-0.75),(2097.2,-0.03),(2097.6,0.83),(2097.9,0.52),(2098.3,0.40),(2098.6,0.23)]

reg_intercept = -107.9
reg_slope = 0.0517
equation_text = "y = -108.8+0.052(Year)"
baseline_mean = -5.43
marker_years = [2040, 2080]
marker_labels = ["+2.7°C", "+5°C"]

x_tick_vals = [1980, 2000, 2020, 2040, 2060, 2080, 2100]
x_tick_text = ["1980", "", "2020", "", "2060", "", "2100"]
big_year_labels = ["2000", "2040", "2080"]
y_tick_vals = [-10, -5, 0, 5]

legend_labels = ["Cccma", "Echam5", "Gfdl2.1", "Hadley", "MirocMR",
                 "Composite", "Regression of Composite", "1961-1990 Mean"]

FONT = "Liberation Sans, Arial, Helvetica, sans-serif"


def pxx(px):
    return (px - ML) / PW


def pxy(py):
    return (H - MB - py) / PH


fig = go.Figure()

all_series = [cccma, echam5, gfdl21, hadley, mirocmr]
for name, color, data in zip(series_names, series_colors, all_series):
    fig.add_trace(go.Scatter(x=[p[0] for p in data], y=[p[1] for p in data],
                             mode="lines", name=name,
                             line=dict(color=color, width=1.5), showlegend=False))

fig.add_trace(go.Scatter(x=[p[0] for p in composite], y=[p[1] for p in composite],
                         mode="lines", name="Composite",
                         line=dict(color="black", width=4.5), showlegend=False))

fig.add_trace(go.Scatter(x=x_range, y=[reg_intercept + reg_slope * v for v in x_range],
                         mode="lines", name="Regression of Composite",
                         line=dict(color="#ff0000", width=3.5), showlegend=False))

fig.add_trace(go.Scatter(x=x_range, y=[baseline_mean, baseline_mean], mode="lines",
                         name="1961-1990 Mean",
                         line=dict(color="black", width=1, dash="8px,5px"), showlegend=False))

for yr in marker_years:
    tip = reg_intercept + reg_slope * yr
    fig.add_trace(go.Scatter(x=[yr, yr], y=[tip, y_range[0]], mode="lines",
                             line=dict(color="black", width=4), showlegend=False))
    fig.add_trace(go.Scatter(x=[yr - 1.25, yr, yr + 1.25], y=[tip - 0.46, tip, tip - 0.46],
                             mode="lines", line=dict(color="black", width=3),
                             showlegend=False))

shapes = []
# background gradient (whole figure)
top_c = (202, 216, 232)
bot_c = (251, 252, 254)
nb = 80
for i in range(nb):
    y0 = i * H / nb
    y1 = (i + 1) * H / nb + 1
    t = (i + 0.5) / nb
    c = tuple(round(top_c[k] + (bot_c[k] - top_c[k]) * t) for k in range(3))
    shapes.append(dict(type="rect", xref="paper", yref="paper",
                       x0=pxx(0), x1=pxx(W), y0=pxy(y1), y1=pxy(y0),
                       fillcolor="rgb(%d,%d,%d)" % c, line=dict(width=0), layer="below"))


def box(x0, y0, x1, y1, color):
    shapes.append(dict(type="rect", xref="paper", yref="paper",
                       x0=pxx(x0), x1=pxx(x1), y0=pxy(y1), y1=pxy(y0),
                       fillcolor=color, line=dict(width=0), layer="above"))


box(0, 266, 87, 713, "#eaf3fd")
box(958, 618, 1143, 688, "#ebf3fc")
box(1479, 618, 1623, 688, "#ebf3fc")
box(375, 1017, 520, 1088, "#ffffff")
box(887, 1017, 1031, 1088, "#ffffff")
box(1416, 1017, 1559, 1088, "#ffffff")
box(582, 1065, 893, 1090, "#fefefe")

# legend samples
leg_styles = [dict(color=c, width=1.5) for c in series_colors] + [
    dict(color="black", width=4), dict(color="#ff0000", width=4),
    dict(color="black", width=1, dash="6px,5px")]
annotations = []
for i, (lab, st) in enumerate(zip(legend_labels, leg_styles)):
    yy = 55 + 34.4 * i
    shapes.append(dict(type="line", xref="paper", yref="paper",
                       x0=pxx(203), x1=pxx(278), y0=pxy(yy), y1=pxy(yy),
                       line=st, layer="above"))
    annotations.append(dict(xref="paper", yref="paper", x=pxx(312), y=pxy(yy + 2),
                            xanchor="left", yanchor="middle", showarrow=False,
                            text=lab, font=dict(family=FONT, size=20, color="black")))

annotations.append(dict(xref="paper", yref="paper", x=pxx(940), y=pxy(38),
                        xanchor="center", yanchor="middle", showarrow=False,
                        text=equation_text, font=dict(family=FONT, size=19, color="black")))

for lab, cx in zip(marker_labels, [1051, 1545]):
    annotations.append(dict(xref="paper", yref="paper", x=pxx(cx), y=pxy(654),
                            xanchor="center", yanchor="middle", showarrow=False,
                            text=lab, font=dict(family=FONT, size=43, color="black")))

for lab, cx in zip(big_year_labels, [440, 953, 1482]):
    annotations.append(dict(xref="paper", yref="paper", x=pxx(cx), y=pxy(1054),
                            xanchor="center", yanchor="middle", showarrow=False,
                            text=lab, font=dict(family=FONT, size=43, color="black")))

annotations.append(dict(xref="paper", yref="paper", x=pxx(670), y=pxy(1106),
                        xanchor="center", yanchor="middle", showarrow=False,
                        text="Year", font=dict(family=FONT, size=60, color="black")))

annotations.append(dict(xref="paper", yref="paper", x=pxx(40), y=pxy(510),
                        xanchor="center", yanchor="middle", showarrow=False, textangle=-90,
                        text="Temperature", font=dict(family=FONT, size=65, color="black")))

fig.update_layout(
    width=W, height=H,
    margin=dict(l=ML, r=MR, t=MT, b=MB, pad=0),
    paper_bgcolor="rgb(%d,%d,%d)" % bot_c,
    plot_bgcolor="rgba(0,0,0,0)",
    showlegend=False,
    shapes=shapes,
    annotations=annotations,
    font=dict(family=FONT, color="black"),
    xaxis=dict(range=x_range, showgrid=False, zeroline=False, showline=True, mirror=True,
               linecolor="black", linewidth=1.5, ticks="outside", ticklen=12, tickwidth=1,
               tickcolor="black", tickvals=x_tick_vals, ticktext=x_tick_text,
               tickfont=dict(family=FONT, size=18, color="black"), ticklabelstandoff=10),
    yaxis=dict(range=y_range, showgrid=False, zeroline=False, showline=True, mirror=True,
               linecolor="black", linewidth=1.5, ticks="outside", ticklen=12, tickwidth=1,
               tickcolor="black", tickvals=y_tick_vals, tickangle=-90,
               tickfont=dict(family=FONT, size=18, color="black"), ticklabelstandoff=8),
)

fig.write_html("out.html")
